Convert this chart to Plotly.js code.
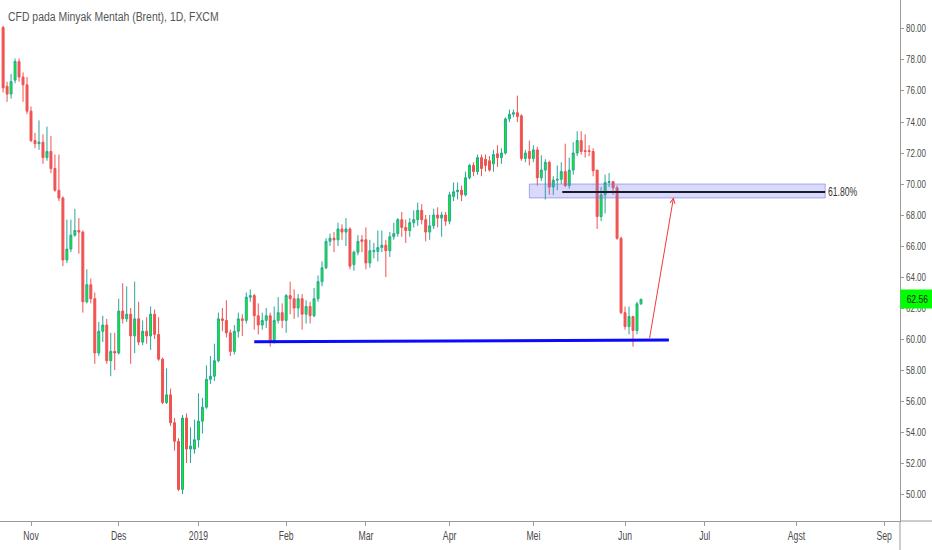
<!DOCTYPE html>
<html><head><meta charset="utf-8">
<script src="https://cdn.plot.ly/plotly-3.0.1.min.js"></script>
<style>html,body{margin:0;padding:0;background:#fff;}#chart{width:932px;height:550px;}</style>
</head><body><div id="chart"></div>
<script>
// ---- data (daily bars) ----
const dates = [
'2018-10-23','2018-10-24','2018-10-25','2018-10-26','2018-10-29','2018-10-30','2018-10-31',
'2018-11-01','2018-11-02','2018-11-05','2018-11-06','2018-11-07','2018-11-08','2018-11-09','2018-11-12','2018-11-13','2018-11-14','2018-11-15','2018-11-16','2018-11-19','2018-11-20','2018-11-21','2018-11-22','2018-11-23','2018-11-26','2018-11-27','2018-11-28','2018-11-29','2018-11-30',
'2018-12-03','2018-12-04','2018-12-05','2018-12-06','2018-12-07','2018-12-10','2018-12-11','2018-12-12','2018-12-13','2018-12-14','2018-12-17','2018-12-18','2018-12-19','2018-12-20','2018-12-21','2018-12-24','2018-12-26','2018-12-27','2018-12-28','2018-12-31',
'2019-01-02','2019-01-03','2019-01-04','2019-01-07','2019-01-08','2019-01-09','2019-01-10','2019-01-11','2019-01-14','2019-01-15','2019-01-16','2019-01-17','2019-01-18','2019-01-21','2019-01-22','2019-01-23','2019-01-24','2019-01-25','2019-01-28','2019-01-29','2019-01-30','2019-01-31',
'2019-02-01','2019-02-04','2019-02-05','2019-02-06','2019-02-07','2019-02-08','2019-02-11','2019-02-12','2019-02-13','2019-02-14','2019-02-15','2019-02-18','2019-02-19','2019-02-20','2019-02-21','2019-02-22','2019-02-25','2019-02-26','2019-02-27','2019-02-28',
'2019-03-01','2019-03-04','2019-03-05','2019-03-06','2019-03-07','2019-03-08','2019-03-11','2019-03-12','2019-03-13','2019-03-14','2019-03-15','2019-03-18','2019-03-19','2019-03-20','2019-03-21','2019-03-22','2019-03-25','2019-03-26','2019-03-27','2019-03-28','2019-03-29',
'2019-04-01','2019-04-02','2019-04-03','2019-04-04','2019-04-05','2019-04-08','2019-04-09','2019-04-10','2019-04-11','2019-04-12','2019-04-15','2019-04-16','2019-04-17','2019-04-18','2019-04-22','2019-04-23','2019-04-24','2019-04-25','2019-04-26','2019-04-29','2019-04-30',
'2019-05-01','2019-05-02','2019-05-03','2019-05-06','2019-05-07','2019-05-08','2019-05-09','2019-05-10','2019-05-13','2019-05-14','2019-05-15','2019-05-16','2019-05-17','2019-05-20','2019-05-21','2019-05-22','2019-05-23','2019-05-24','2019-05-27','2019-05-28','2019-05-29','2019-05-30','2019-05-31',
'2019-06-03','2019-06-04','2019-06-05','2019-06-06','2019-06-07'];

const openPrices = [
80.1,76.3,75.8,76.7,77.9,76.9,76.4,
74.7,72.8,72.6,72.7,71.7,72.1,71.0,69.6,69.1,65.1,65.8,66.7,67.0,66.9,62.4,63.5,62.6,59.1,60.5,60.9,58.6,59.2,
59.1,61.8,61.3,61.6,60.2,61.3,59.8,60.5,60.2,61.6,60.3,58.7,55.9,56.4,54.6,53.4,50.3,54.9,52.9,52.9,
53.5,54.7,55.6,57.4,57.6,58.6,61.3,61.2,60.4,59.2,60.5,61.3,61.2,62.7,62.8,61.5,60.9,61.2,61.5,59.8,61.2,61.7,
61.2,62.8,62.6,62.0,62.6,61.6,62.1,61.5,62.6,63.7,64.6,66.3,66.5,66.4,67.1,66.9,67.1,64.8,65.6,66.4,
66.4,64.9,65.65,65.65,65.9,66.05,65.7,66.6,66.8,67.7,67.2,67.0,67.5,67.7,68.3,67.7,66.9,67.3,68.0,67.8,68.0,
67.6,69.2,69.5,69.6,69.3,70.4,71.2,70.8,71.7,71.6,71.5,71.3,71.95,71.7,72.0,74.2,74.5,74.6,74.4,71.65,72.1,
71.65,72.2,70.4,70.9,71.4,69.8,70.25,70.3,70.8,69.9,70.9,72.0,72.8,72.15,72.15,72.1,70.9,67.9,69.3,70.1,70.15,69.75,66.5,
61.7,60.8,61.45,60.55,62.27];

const highPrices = [
80.2,76.6,77.1,78.1,78.1,77.2,76.9,
75.0,73.3,74.1,73.2,73.7,73.1,71.9,71.9,69.2,67.7,67.7,68.4,67.8,67.0,64.5,63.9,63.0,61.1,61.5,61.3,60.4,60.4,
62.6,63.6,63.4,62.0,63.7,62.4,61.2,61.4,62.1,61.9,61.4,58.8,58.1,56.8,54.9,53.6,55.1,55.2,54.3,54.8,
56.5,56.2,58.3,58.9,59.7,61.7,62.0,62.5,60.6,60.9,61.7,61.6,63.0,63.2,62.9,62.3,61.7,62.0,61.7,62.1,62.7,62.3,
62.9,63.7,63.2,62.9,62.9,62.5,62.4,63.3,64.1,65.0,66.5,66.8,66.9,67.5,67.4,67.8,67.2,65.7,66.7,66.7,
67.2,66.4,66.2,67.0,67.0,66.4,66.9,67.5,67.8,68.2,67.7,67.8,68.3,68.8,68.7,68.0,68.0,68.4,68.5,68.2,68.2,
69.5,70.1,70.1,69.9,70.8,71.3,71.4,71.9,71.9,71.9,71.8,72.2,72.5,72.3,74.3,74.8,74.8,75.7,74.5,72.2,72.8,
72.5,72.4,71.85,71.6,71.5,70.5,71.2,71.4,72.6,71.7,72.7,73.4,73.4,73.2,72.5,72.3,70.9,69.8,70.6,70.7,70.2,69.9,66.6,
62.1,62.1,61.5,62.4,62.6];

const lowPrices = [
75.9,75.3,75.5,76.5,76.6,75.3,74.5,
72.7,72.3,72.2,71.3,71.5,70.7,69.5,68.9,64.7,64.9,65.6,66.6,65.5,61.7,62.3,62.3,58.4,58.9,59.8,58.4,57.6,58.0,
59.0,61.0,61.1,58.4,59.1,59.6,59.6,59.7,59.3,60.0,58.6,55.8,55.8,54.4,52.8,50.2,50.0,52.0,52.0,52.6,
53.0,53.9,55.5,57.1,57.3,58.5,60.5,60.1,58.9,59.0,60.1,60.2,61.0,62.4,60.6,60.3,60.6,60.7,59.5,59.7,61.0,60.7,
60.4,61.6,61.3,61.4,60.6,61.0,61.0,61.4,62.4,63.4,64.5,66.0,65.6,66.0,66.4,66.0,64.5,64.4,65.4,65.6,
64.5,64.6,65.2,65.0,65.6,64.0,65.3,66.4,66.6,66.6,66.2,66.6,67.2,67.3,67.4,66.3,66.4,67.1,67.2,66.6,67.3,
67.4,68.9,69.0,68.9,69.2,70.3,70.5,70.6,70.5,70.8,70.8,70.8,71.1,71.3,71.9,74.0,74.3,74.0,71.5,71.4,71.2,
71.4,69.9,70.2,69.0,69.3,69.3,69.6,70.0,69.8,69.7,70.6,71.8,71.9,71.7,71.8,70.5,67.1,67.6,68.1,69.8,69.3,66.4,61.6,
60.6,60.3,59.5,60.3,62.2];

const closePrices = [
76.2,75.8,76.6,77.9,76.9,76.4,74.7,
72.8,72.6,72.7,71.7,72.1,71.0,69.6,69.1,65.1,65.8,66.7,67.0,66.9,62.4,63.5,62.6,59.1,60.5,60.9,58.6,59.2,59.1,
61.8,61.3,61.6,60.2,61.3,59.8,60.5,60.2,61.6,60.3,58.7,55.9,56.4,54.6,53.4,50.3,54.9,52.9,53.1,53.5,
54.7,55.6,57.4,57.6,58.6,61.3,61.2,60.4,59.2,60.5,61.3,61.2,62.7,62.8,61.5,60.9,61.2,61.5,59.8,61.2,61.7,61.2,
62.8,62.6,62.0,62.6,61.6,62.1,61.5,62.6,63.7,64.6,66.3,66.5,66.4,67.1,66.9,67.1,64.7,65.6,66.3,66.3,
64.9,65.7,65.7,65.9,66.05,65.7,66.6,66.8,67.7,67.2,67.0,67.5,67.7,68.3,67.7,66.9,67.3,68.0,67.8,68.0,67.6,
69.3,69.5,69.6,69.3,70.4,71.2,70.8,71.7,71.0,71.2,70.9,71.9,71.7,72.0,74.2,74.5,74.6,74.35,71.65,72.0,71.65,
72.2,70.4,70.9,71.4,69.8,70.25,70.3,70.8,69.9,70.9,72.0,72.8,72.1,72.1,72.1,70.85,67.9,69.3,70.1,70.15,69.75,66.5,61.7,
60.8,61.45,60.55,62.27,62.56];

const monthTickDates = ['2018-11-01','2018-12-03','2019-01-02','2019-02-01','2019-03-01','2019-04-01','2019-05-01','2019-06-03','2019-07-01','2019-08-01','2019-09-02'];
const monthTickLabels = ['Nov','Des','2019','Feb','Mar','Apr','Mei','Jun','Jul','Agst','Sep'];
const priceTicks = [50,52,54,56,58,60,62,64,66,68,70,72,74,76,78,80];
const holidays = ['2018-12-25','2019-01-01','2019-04-19'];
const lastPrice = 62.56;
const titleText = 'CFD pada Minyak Mentah (Brent), 1D, FXCM';

// drawings (date / price anchors)
const supportStart = ['2019-01-22 12:00', 59.82];
const supportEnd   = ['2019-06-18 12:00', 59.94];
const zoneStart = '2019-04-30 12:00';
const zoneEnd   = '2019-08-12 17:00';
const zoneLow = 69.10, zoneHigh = 70.00;
const fibStart = '2019-05-10 18:00';
const fibLevel = 69.48;
const fibLabel = '61.80%';
const arrowTail = ['2019-06-11 14:00', 59.94];
const arrowHead = ['2019-06-19 16:00', 69.14];

// ---- chart ----
const noon = d => d + ' 12:00';
const FONT = "'Liberation Sans','Arial',sans-serif";

const trace = {
  type: 'candlestick',
  x: dates.map(noon),
  open: openPrices, high: highPrices, low: lowPrices, close: closePrices,
  increasing: {line: {color: '#26a69a', width: 1}, fillcolor: '#00ff00'},
  decreasing: {line: {color: '#ef5350', width: 1}, fillcolor: '#ef5350'},
  whiskerwidth: 0,
  showlegend: false,
  hoverinfo: 'skip'
};

const layout = {
  width: 932, height: 550,
  margin: {l: 0, r: 32, t: 0, b: 29},
  paper_bgcolor: '#ffffff', plot_bgcolor: '#ffffff',
  showlegend: false,
  font: {family: FONT, size: 12, color: '#4a4a4a'},
  xaxis: {
    type: 'date',
    range: ['2018-10-22 17:20', '2019-09-06 11:15'],
    rangebreaks: [{bounds: ['sat', 'mon']}, {values: holidays}],
    rangeslider: {visible: false},
    tickmode: 'array', tickvals: monthTickDates.map(noon), ticktext: monthTickLabels,
    ticks: 'outside', ticklen: 4, tickcolor: '#9a9a9a',
    showline: true, linecolor: '#9a9a9a', linewidth: 1,
    showgrid: false, zeroline: false,
    tickfont: {family: FONT, size: 12, color: '#4a4a4a'},
    fixedrange: true
  },
  yaxis: {
    side: 'right',
    range: [48.26, 81.87],
    tickmode: 'array', tickvals: priceTicks, tickformat: '.2f',
    ticks: 'outside', ticklen: 3, tickcolor: '#9a9a9a',
    showline: true, linecolor: '#9a9a9a', linewidth: 1,
    showgrid: false, zeroline: false,
    tickfont: {family: FONT, size: 10, color: '#4a4a4a'},
    fixedrange: true
  },
  shapes: [
    {type: 'rect', xref: 'x', yref: 'y', x0: zoneStart, x1: zoneEnd, y0: zoneLow, y1: zoneHigh,
     fillcolor: 'rgba(120,120,235,0.28)', line: {color: 'rgba(110,110,230,0.55)', width: 1}},
    {type: 'line', xref: 'x', yref: 'y', x0: fibStart, x1: zoneEnd, y0: fibLevel, y1: fibLevel,
     line: {color: '#1b1b2f', width: 2}},
    {type: 'line', xref: 'x', yref: 'y', x0: supportStart[0], y0: supportStart[1], x1: supportEnd[0], y1: supportEnd[1],
     line: {color: '#0a0aff', width: 3}},
    {type: 'line', xref: 'paper', yref: 'paper', x0: 1, x1: 1.0356, y0: 0, y1: 0,
     line: {color: '#9a9a9a', width: 1}},
    {type: 'line', xref: 'paper', yref: 'paper', x0: 1, x1: 1, y0: -0.056, y1: 0,
     line: {color: '#9a9a9a', width: 1}}
  ],
  annotations: [
    {xref: 'paper', yref: 'paper', x: 0.0067, y: 1 - 17/521, xanchor: 'left', yanchor: 'middle',
     text: titleText, showarrow: false, font: {family: FONT, size: 12, color: '#555555'}},
    {xref: 'x', yref: 'y', x: zoneEnd, y: fibLevel, xanchor: 'left', yanchor: 'middle', xshift: 1,
     text: fibLabel, showarrow: false, font: {family: FONT, size: 12, color: '#333333'}},
    {xref: 'x', yref: 'y', axref: 'x', ayref: 'y', x: arrowHead[0], y: arrowHead[1], ax: arrowTail[0], ay: arrowTail[1],
     text: '', showarrow: true, arrowhead: 5, arrowsize: 1, arrowwidth: 1, arrowcolor: '#ef3b3b'},
    {xref: 'paper', yref: 'y', x: 1, y: lastPrice, xanchor: 'left', yanchor: 'middle',
     text: lastPrice.toFixed(2), showarrow: false, bgcolor: '#00ff00', width: 29, height: 14, borderpad: 2,
     font: {family: FONT, size: 10, color: '#1a1a1a'}}
  ]
};

// the source screenshot uses a tall, narrow face: squeeze glyphs horizontally
function squeeze(el, factor, keepLeft) {
  const w = el.getComputedTextLength();
  if (w > 0) {
    el.setAttribute('textLength', (w * factor).toFixed(1));
    el.setAttribute('lengthAdjust', 'spacingAndGlyphs');
    if (keepLeft && el.getAttribute('text-anchor') === 'middle') {
      const x = parseFloat(el.getAttribute('x')) || 0;
      el.setAttribute('text-anchor', 'start');
      el.setAttribute('x', (x - w / 2).toFixed(1));
    }
  }
}

Plotly.newPlot('chart', [trace], layout, {staticPlot: true, displayModeBar: false}).then(gd => {
  gd.querySelectorAll('.ytick text').forEach(t => squeeze(t, 0.8, false));
  gd.querySelectorAll('.xtick text').forEach(t => squeeze(t, 0.72, false));
  gd.querySelectorAll('.annotation-text').forEach(t => {
    const s = t.textContent;
    if (s === titleText) squeeze(t, 0.87, true);
    else if (s === fibLabel) squeeze(t, 0.72, true);
    else if (s === lastPrice.toFixed(2)) squeeze(t, 0.85, false);
  });
});
</script>
</body></html>
